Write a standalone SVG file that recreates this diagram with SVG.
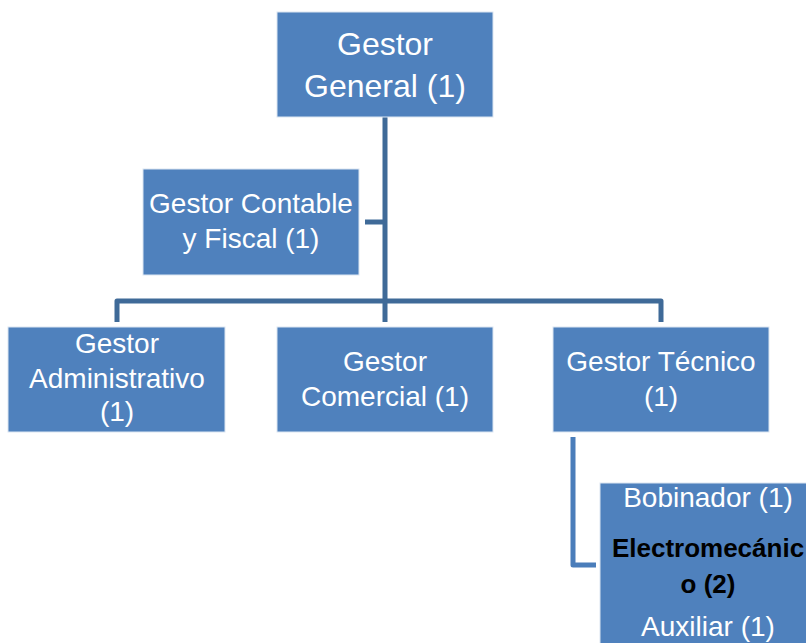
<svg xmlns="http://www.w3.org/2000/svg" width="806" height="643" viewBox="0 0 806 643">
<style>
.box{fill:#4F81BD;stroke:#DCE6F2;stroke-width:1}
.t{font-family:"Liberation Sans",Arial,sans-serif;fill:#ffffff;text-anchor:middle}
.b{font-family:"Liberation Sans",Arial,sans-serif;fill:#000000;font-weight:bold;text-anchor:middle}
.c{fill:none;stroke:#3F6A98;stroke-width:5;stroke-linejoin:round}
.c2{fill:none;stroke:#4A7DBA;stroke-width:5;stroke-linejoin:round}
</style>
<rect width="806" height="643" fill="#ffffff"/>
<g id="connectors">
<path class="c" d="M385 117 V322"/>
<path class="c" d="M365 222 H385"/>
<path class="c" d="M117 322 V301 H661 V322"/>
<path class="c2" d="M573 437 V565 H596"/>
</g>
<g id="gestor-general">
<rect class="box" x="277" y="12" width="216" height="105"/>
<text class="t" x="385" y="55" font-size="32">Gestor</text>
<text class="t" x="385" y="97" font-size="32">General (1)</text>
</g>
<g id="gestor-contable">
<rect class="box" x="143" y="169" width="216" height="106"/>
<text class="t" x="251" y="213" font-size="28">Gestor Contable</text>
<text class="t" x="251" y="248" font-size="28">y Fiscal (1)</text>
</g>
<g id="gestor-administrativo">
<rect class="box" x="8" y="327" width="217" height="105"/>
<text class="t" x="117" y="353" font-size="28">Gestor</text>
<text class="t" x="117" y="388" font-size="28">Administrativo</text>
<text class="t" x="117" y="421" font-size="28">(1)</text>
</g>
<g id="gestor-comercial">
<rect class="box" x="277" y="327" width="216" height="105"/>
<text class="t" x="385" y="371" font-size="28">Gestor</text>
<text class="t" x="385" y="406" font-size="28">Comercial (1)</text>
</g>
<g id="gestor-tecnico">
<rect class="box" x="553" y="327" width="216" height="105"/>
<text class="t" x="661" y="371" font-size="28">Gestor Técnico</text>
<text class="t" x="661" y="406" font-size="28">(1)</text>
</g>
<g id="equipo-tecnico">
<rect class="box" x="600" y="483" width="216" height="170"/>
<text class="t" x="708" y="507" font-size="28">Bobinador (1)</text>
<text class="b" x="708" y="557" font-size="26">Electromecánic</text>
<text class="b" x="708" y="593" font-size="26">o (2)</text>
<text class="t" x="708" y="636" font-size="28">Auxiliar (1)</text>
</g>
</svg>
